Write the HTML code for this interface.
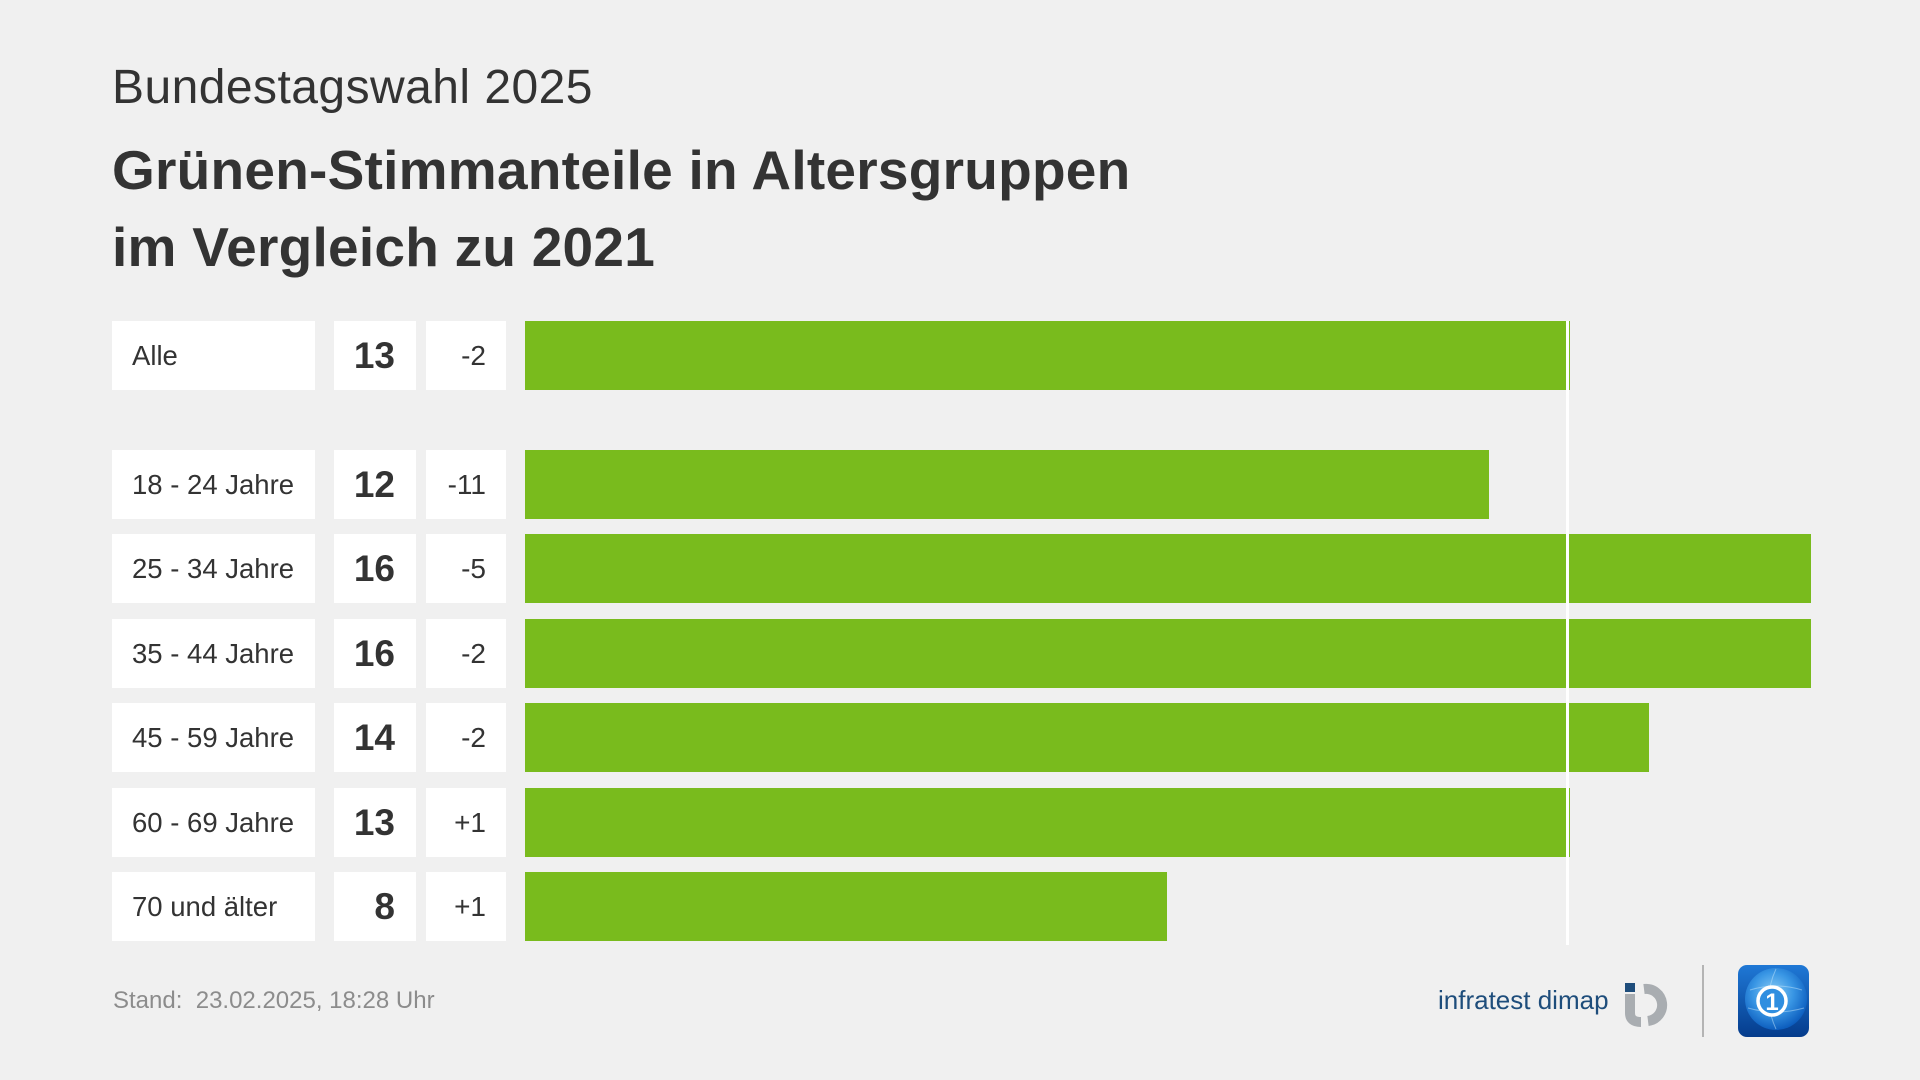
<!DOCTYPE html>
<html>
<head>
<meta charset="utf-8">
<style>
  html, body { margin:0; padding:0; }
  body { width:1920px; height:1080px; background:#f0f0f0; position:relative; overflow:hidden;
         font-family:"Liberation Sans", Arial, sans-serif; color:#333333; }
  .abs { position:absolute; }
  .sub { left:112px; top:64px; font-size:48px; line-height:1; white-space:nowrap; color:#333; letter-spacing:0.45px; }
  .title { left:112px; top:132px; font-size:55px; line-height:77px; font-weight:bold; white-space:nowrap; color:#333; letter-spacing:0.25px; }
  .box { position:absolute; background:#ffffff; height:69px; line-height:69px; white-space:nowrap; }
  .lab { left:112px; width:183px; padding-left:20px; font-size:27.5px; }
  .num { left:334px; width:61px; padding-right:21px; text-align:right; font-size:37px; font-weight:bold; }
  .dif { left:426px; width:60px; padding-right:20px; text-align:right; font-size:28px; }
  .bar { position:absolute; left:525px; height:69px; background:#79bb1d; }
  .vline { position:absolute; left:1566px; width:3px; top:321px; height:624px; background:#ffffff; }
  .stand { left:113px; top:989px; font-size:24px; line-height:1; color:#8c8c8c; white-space:nowrap; }
  .infra { left:1438px; top:987px; font-size:26px; line-height:1; color:#1e4d7b; white-space:nowrap; }
</style>
</head>
<body>
  <div class="abs sub">Bundestagswahl 2025</div>
  <div class="abs title">Grünen-Stimmanteile in Altersgruppen<br>im Vergleich zu 2021</div>

  <!-- Row: Alle -->
  <div class="box lab" style="top:321px;">Alle</div>
  <div class="box num" style="top:321px;">13</div>
  <div class="box dif" style="top:321px;">-2</div>
  <div class="bar" style="top:321px;width:1045px;"></div>

  <!-- 18 - 24 -->
  <div class="box lab" style="top:450px;">18 - 24 Jahre</div>
  <div class="box num" style="top:450px;">12</div>
  <div class="box dif" style="top:450px;">-11</div>
  <div class="bar" style="top:450px;width:964px;"></div>

  <!-- 25 - 34 -->
  <div class="box lab" style="top:534px;">25 - 34 Jahre</div>
  <div class="box num" style="top:534px;">16</div>
  <div class="box dif" style="top:534px;">-5</div>
  <div class="bar" style="top:534px;width:1286px;"></div>

  <!-- 35 - 44 -->
  <div class="box lab" style="top:619px;">35 - 44 Jahre</div>
  <div class="box num" style="top:619px;">16</div>
  <div class="box dif" style="top:619px;">-2</div>
  <div class="bar" style="top:619px;width:1286px;"></div>

  <!-- 45 - 59 -->
  <div class="box lab" style="top:703px;">45 - 59 Jahre</div>
  <div class="box num" style="top:703px;">14</div>
  <div class="box dif" style="top:703px;">-2</div>
  <div class="bar" style="top:703px;width:1124px;"></div>

  <!-- 60 - 69 -->
  <div class="box lab" style="top:788px;">60 - 69 Jahre</div>
  <div class="box num" style="top:788px;">13</div>
  <div class="box dif" style="top:788px;">+1</div>
  <div class="bar" style="top:788px;width:1045px;"></div>

  <!-- 70 und älter -->
  <div class="box lab" style="top:872px;">70 und älter</div>
  <div class="box num" style="top:872px;">8</div>
  <div class="box dif" style="top:872px;">+1</div>
  <div class="bar" style="top:872px;width:642px;"></div>

  <div class="vline"></div>

  <div class="abs stand">Stand:&nbsp; 23.02.2025, 18:28 Uhr</div>

  <div class="abs infra">infratest dimap</div>

  <svg class="abs" style="left:0;top:0;" width="1920" height="1080" viewBox="0 0 1920 1080">
    <defs>
      <linearGradient id="tsbg" x1="0" y1="0" x2="0" y2="1">
        <stop offset="0" stop-color="#1f78d6"/>
        <stop offset="1" stop-color="#053c8c"/>
      </linearGradient>
      <radialGradient id="globe" cx="0.45" cy="0.4" r="0.6">
        <stop offset="0" stop-color="#8fd2f8"/>
        <stop offset="0.55" stop-color="#3a98e6"/>
        <stop offset="1" stop-color="#0d5fc0"/>
      </radialGradient>
    </defs>
    <!-- infratest dimap icon -->
    <rect x="1625" y="983" width="10" height="9" fill="#1e4d7b"/>
    <path d="M1630 994 L1630 1013 Q1630 1022 1641 1022" fill="none" stroke="#a9adb1" stroke-width="10"/>
    <path d="M1644 989 A16 16 0 0 1 1648 1021" fill="none" stroke="#a9adb1" stroke-width="10"/>
    <!-- separator -->
    <rect x="1702" y="965" width="2" height="72" fill="#b4b4b4"/>
    <!-- tagesschau logo -->
    <rect x="1738" y="965" width="71" height="72" rx="9" ry="9" fill="url(#tsbg)"/>
    <circle cx="1776" cy="999" r="31" fill="url(#globe)" opacity="0.95"/>
    <path d="M1750 990 Q1776 982 1802 990 M1748 1008 Q1776 1016 1804 1008 M1776 969 Q1762 999 1776 1029" fill="none" stroke="#bfe4fb" stroke-width="1" opacity="0.5"/>
    <circle cx="1772" cy="1001" r="14" fill="#2f8ee0" stroke="#ffffff" stroke-width="3.5"/>
    <text x="1772" y="1010" font-family="Liberation Sans, sans-serif" font-size="24" font-weight="bold" fill="#ffffff" text-anchor="middle">1</text>
  </svg>
</body>
</html>
